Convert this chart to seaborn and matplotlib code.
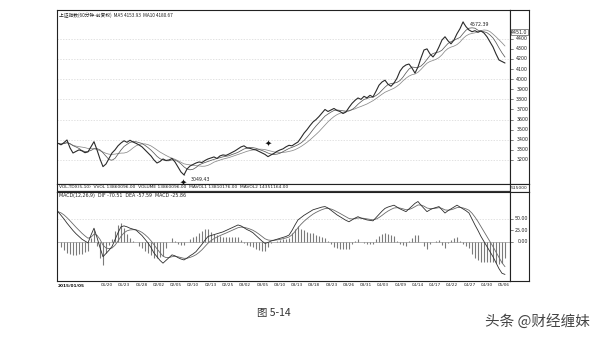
import numpy as np
import pandas as pd
import matplotlib
matplotlib.use("Agg")
import matplotlib.pyplot as plt
import matplotlib.transforms as mtransforms
import seaborn as sns

# ---------------- data ----------------
close = [3365, 3350, 3372, 3398, 3320, 3269, 3285, 3300, 3290, 3272,
         3280, 3330, 3381, 3300, 3210, 3134, 3160, 3215, 3269, 3300,
         3340, 3368, 3390, 3375, 3395, 3378, 3365, 3349, 3330, 3300,
         3269, 3240, 3200, 3170, 3185, 3210, 3195, 3200, 3215, 3180,
         3130, 3081, 3052, 3110, 3140, 3155, 3170, 3180, 3175, 3195,
         3210, 3220, 3230, 3215, 3240, 3250, 3245, 3259, 3275, 3290,
         3310, 3329, 3340, 3320, 3315, 3305, 3299, 3285, 3270, 3255,
         3233, 3250, 3265, 3285, 3299, 3310, 3330, 3345, 3340, 3360,
         3378, 3420, 3465, 3500, 3540, 3576, 3600, 3630, 3665, 3700,
         3680, 3695, 3710, 3690, 3680, 3660, 3675, 3720, 3760, 3790,
         3814, 3800, 3830, 3815, 3840, 3824, 3880, 3940, 3972, 3990,
         3950, 3930, 3962, 4010, 4080, 4120, 4141, 4150, 4110, 4060,
         4121, 4210, 4289, 4300, 4250, 4220, 4259, 4320, 4388, 4420,
         4380, 4350, 4388, 4450, 4500, 4566, 4520, 4487, 4470, 4480,
         4465, 4477, 4457, 4420, 4370, 4319, 4250, 4190, 4175, 4160]

dif = [66, 58, 50, 41, 33, 25, 18, 12, 6, 2,
       -2, 15, 30, 10, -12, -32, -25, -18, -10, 5,
       20, 33, 35, 33, 30, 28, 26, 20, 14, 6,
       -2, -12, -24, -32, -40, -46, -40, -34, -28, -30,
       -34, -37, -39, -35, -30, -26, -21, -13, -5, 4,
       12, 14, 16, 18, 20, 22, 25, 28, 31, 34,
       37, 35, 31, 27, 24, 20, 14, 8, 2, -3,
       -1, 2, 4, 6, 8, 10, 12, 15, 25, 37,
       48, 53, 58, 62, 66, 70, 72, 74, 76, 77,
       74, 69, 64, 59, 55, 51, 47, 44, 48, 52,
       55, 52, 50, 48, 47, 46, 53, 60, 67, 73,
       76, 78, 80, 76, 72, 69, 66, 72, 78, 84,
       88, 80, 73, 66, 70, 73, 75, 77, 70, 63,
       68, 72, 76, 80, 76, 72, 68, 63, 50, 37,
       25, 12, 1, -10, -21, -32, -45, -58, -68, -70.5]

price_ticks = [3200, 3300, 3400, 3500, 3600, 3700, 3800, 3900, 4000,
               4100, 4200, 4300, 4400]
price_grid = [3200, 3400, 3600, 3800, 4000, 4200, 4400]
macd_ticks = [0, 25, 50]
date_labels = ["01/20", "01/23", "01/28", "02/02", "02/05", "02/10",
               "02/13", "02/25", "03/02", "03/05", "03/10", "03/13",
               "03/18", "03/23", "03/26", "03/31", "04/03", "04/09",
               "04/14", "04/17", "04/22", "04/27", "04/30", "05/06"]
first_date = "2015/01/05"
price_header = "上证指数(60分钟-前复权)  MA5 4153.93  MA10 4180.67"
vol_header = ("VOL-TDX(5,10)  VVOL 13860096.00  VOLUME 13860096.00  "
              "MAVOL1 13810176.00  MAVOL2 14351164.00")
macd_header = "MACD(12,26,9)  DIF -70.51  DEA -57.59  MACD -25.86"
low_label = "3049.43"
high_label = "4572.39"
cursor_value = 4451.0
vol_right_label = "515000"
signal_bar = 70

# ---------------- derived series ----------------
df = pd.DataFrame({"bar": np.arange(len(close)), "close": close})
df["ma5"] = df["close"].rolling(5, min_periods=1).mean()
df["ma10"] = df["close"].rolling(10, min_periods=1).mean()
md = pd.DataFrame({"bar": np.arange(len(dif)), "dif": dif})
md["dea"] = md["dif"].ewm(span=5, adjust=False).mean()
md["hist"] = 2 * (md["dif"] - md["dea"])

# ---------------- figure ----------------
sns.set_theme(style="white")
plt.rcParams["font.family"] = ["DejaVu Sans", "Noto Sans CJK SC"]
CJK = ["Noto Sans CJK SC", "DejaVu Sans"]

W, H = 594, 339
fig = plt.figure(figsize=(W / 100, H / 100), dpi=100)
fig.patch.set_facecolor("white")


def box(x0, y0, x1, y1):
    return [x0 / W, 1 - y1 / H, (x1 - x0) / W, (y1 - y0) / H]


XL = (-0.33, 150.67)
ax_p = fig.add_axes(box(57, 10, 510, 184))
ax_pr = fig.add_axes(box(510, 10, 529, 184))
ax_v = fig.add_axes(box(57, 184, 510, 192))
ax_vr = fig.add_axes(box(510, 184, 529, 192))
ax_m = fig.add_axes(box(57, 192, 510, 281))
ax_mr = fig.add_axes(box(510, 192, 529, 281))

for a in [ax_p, ax_pr, ax_v, ax_vr, ax_m, ax_mr]:
    a.set_facecolor("white")
    for s in a.spines.values():
        s.set_color("#222")
        s.set_linewidth(0.8)
    a.set_xticks([])
    a.set_yticks([])
    a.set_xlabel("")
    a.set_ylabel("")

TS = 3.4  # tiny font size

# ---- price panel ----
for g in price_grid:
    ax_p.axhline(g, color="#d6d6d6", lw=0.5, ls=(0, (2, 2)), zorder=0)
sns.lineplot(data=df, x="bar", y="ma10", ax=ax_p, color="#8a8a8a", lw=0.55)
sns.lineplot(data=df, x="bar", y="ma5", ax=ax_p, color="#5a5a5a", lw=0.55)
sns.lineplot(data=df, x="bar", y="close", ax=ax_p, color="#2a2a2a", lw=0.8)
ax_p.set_xlim(*XL)
ax_p.set_ylim(2962, 4685)
ax_p.set_xlabel("")
ax_p.set_ylabel("")
ax_p.set_xticks([])
ax_p.set_yticks([])
ax_p.text(0.004, 0.985, price_header, transform=ax_p.transAxes, va="top",
          ha="left", fontsize=TS, family=CJK, color="#222")

i_low = int(np.argmin(close))
i_high = int(np.argmax(close))
ax_p.annotate(low_label, xy=(i_low, close[i_low]), xytext=(5, -3),
              textcoords="offset points", fontsize=TS, color="#222",
              va="center", ha="left",
              arrowprops=dict(arrowstyle="-", lw=0.4, color="#222"))
ax_p.annotate("✦", xy=(i_low, close[i_low]), xytext=(-0.5, -5),
              textcoords="offset points", fontsize=6, color="#111",
              va="center", ha="center")
ax_p.annotate(high_label, xy=(i_high, close[i_high]), xytext=(5, -2),
              textcoords="offset points", fontsize=TS, color="#222",
              va="center", ha="left",
              arrowprops=dict(arrowstyle="-", lw=0.4, color="#222"))
ax_p.annotate("✦", xy=(signal_bar, close[signal_bar]), xytext=(0, 9.5),
              textcoords="offset points", fontsize=6, color="#111",
              va="center", ha="center")

# right strip for price
ax_pr.set_xlim(0, 1)
ax_pr.set_ylim(2962, 4685)
tr = mtransforms.blended_transform_factory(ax_pr.transAxes, ax_pr.transData)
for t in price_ticks:
    ax_pr.text(0.96, t, f"{t}", transform=tr, ha="right", va="center",
               fontsize=TS, color="#222")
    ax_pr.plot([0, 0.18], [t, t], transform=tr, color="#222", lw=0.4)
ax_pr.text(0.5, cursor_value + 15, f"{cursor_value:.1f}", transform=tr,
           ha="center", va="center", fontsize=TS, color="#222",
           bbox=dict(boxstyle="square,pad=0.15", fc="white", ec="#333", lw=0.4))

# ---- volume strip ----
ax_v.set_xlim(*XL)
ax_v.set_ylim(0, 1)
ax_v.text(0.004, 0.62, vol_header, transform=ax_v.transAxes, va="center",
          ha="left", fontsize=TS - 0.2, color="#222")
ax_v.axhline(0.1, color="#333", lw=0.9)
ax_vr.text(0.5, 0.5, vol_right_label, transform=ax_vr.transAxes, ha="center",
           va="center", fontsize=TS - 0.2, color="#222")

# ---- MACD panel ----
ax_m.axhline(50, color="#d6d6d6", lw=0.5, ls=(0, (2, 2)), zorder=0)
ax_m.axhline(0, color="#9a9a9a", lw=0.5, zorder=0)
ax_m.vlines(md["bar"], 0, md["hist"], color="#7a7a7a", lw=0.8, zorder=1)
sns.lineplot(data=md, x="bar", y="dea", ax=ax_m, color="#6a6a6a", lw=0.6)
sns.lineplot(data=md, x="bar", y="dif", ax=ax_m, color="#2e2e2e", lw=0.6)
ax_m.set_xlim(*XL)
ax_m.set_ylim(-84.8, 108.7)
ax_m.set_xlabel("")
ax_m.set_ylabel("")
ax_m.set_yticks([])
ax_m.text(0.004, 0.985, macd_header, transform=ax_m.transAxes, va="top",
          ha="left", fontsize=TS, color="#222")

# date row
tick_pos = np.linspace(16.3, 148.7, len(date_labels))
ax_m.set_xticks(tick_pos)
ax_m.set_xticklabels(date_labels, fontsize=TS - 0.3, color="#222")
ax_m.tick_params(axis="x", length=0, pad=1.2, bottom=True)
ax_m.text(0.002, -0.035, first_date, transform=ax_m.transAxes, va="top",
          ha="left", fontsize=TS - 0.3, color="#111", fontweight="bold")

ax_mr.set_xlim(0, 1)
ax_mr.set_ylim(-84.8, 108.7)
trm = mtransforms.blended_transform_factory(ax_mr.transAxes, ax_mr.transData)
for t in macd_ticks:
    ax_mr.text(0.96, t, f"{t:.2f}", transform=trm, ha="right", va="center",
               fontsize=TS, color="#222")
    ax_mr.plot([0, 0.18], [t, t], transform=trm, color="#222", lw=0.4)

# ---- caption & watermark ----
fig.text(257 / W, 1 - 313 / H, "图 5-14", fontsize=7.5, family=CJK,
         color="#333", ha="left", va="center")
fig.text(590 / W, 1 - 321 / H, "头条 @财经缠妹", fontsize=10.5, family=CJK,
         color="#444", ha="right", va="center")

fig.savefig("out.png", dpi=100, facecolor="white")
